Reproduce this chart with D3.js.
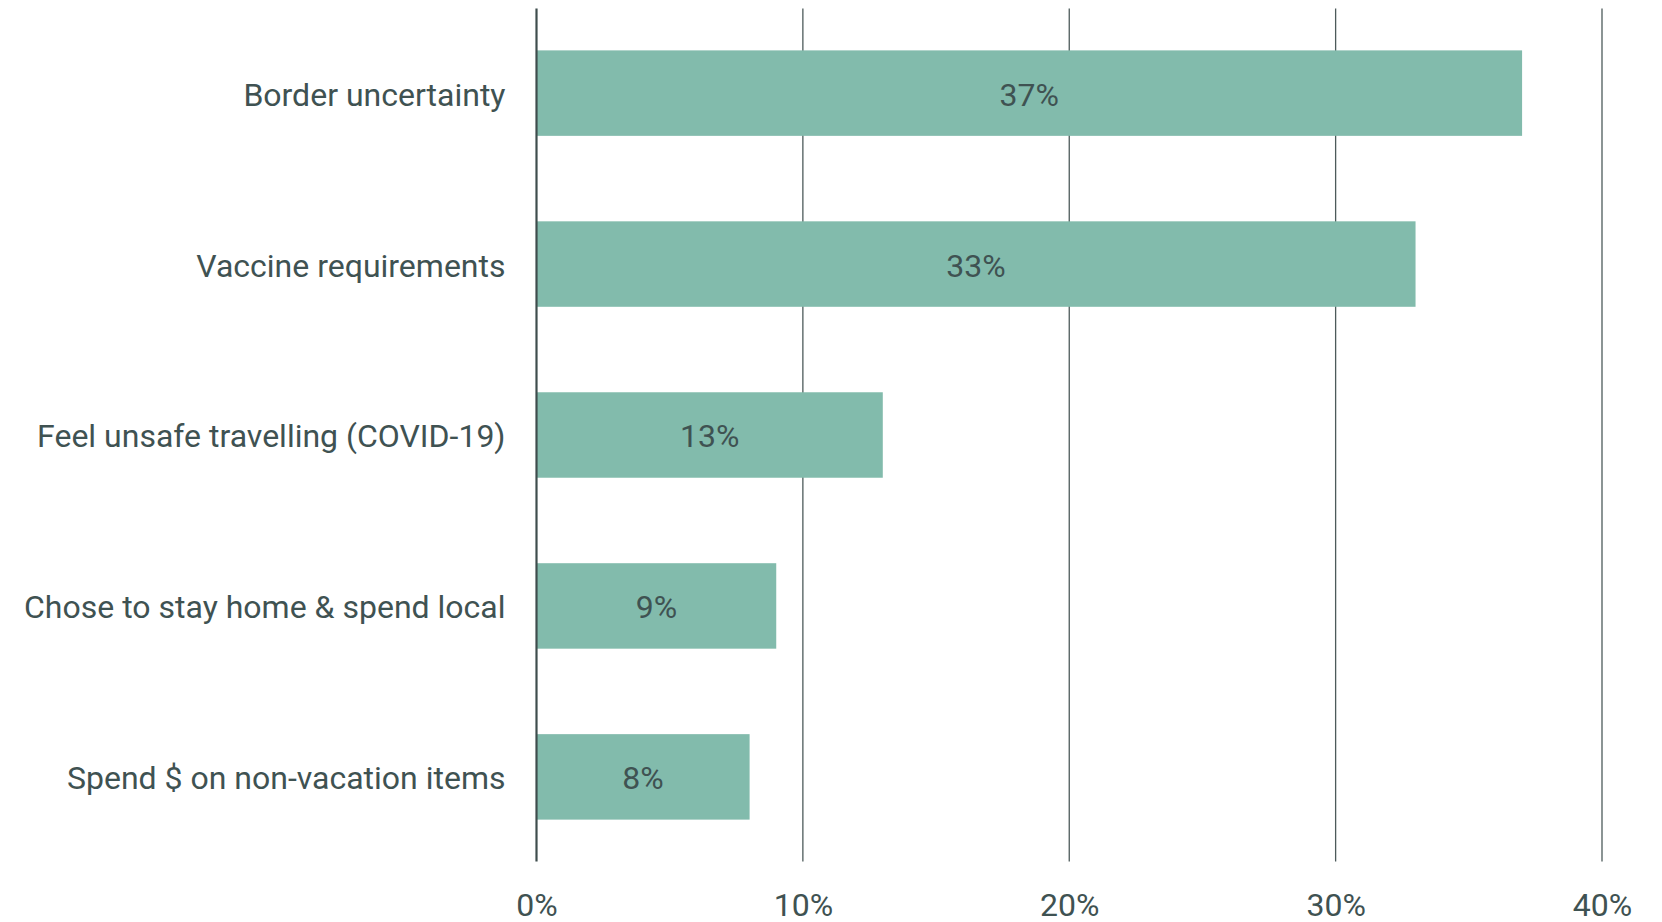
<!DOCTYPE html>
<html>
<head>
<meta charset="utf-8">
<script src="https://cdn.jsdelivr.net/npm/d3@7"></script>
<style>
  html, body { margin: 0; padding: 0; background: #ffffff; }
  svg { display: block; }
  text { font-family: Roboto, "Noto Sans", sans-serif; fill: #3f5252; }
</style>
</head>
<body>
<svg id="chart" width="1662" height="922"></svg>
<script>
// Reasons for not travelling — share of respondents
const categories = [
  "Border uncertainty",
  "Vaccine requirements",
  "Feel unsafe travelling (COVID-19)",
  "Chose to stay home & spend local",
  "Spend $ on non-vacation items"
];
const values = [37, 33, 13, 9, 8];
const tickValues = [0, 10, 20, 30, 40];

const svg = d3.select("#chart");
const plotLeft = 536.5, plotRight = 1602, plotTop = 8.5, plotBottom = 861.5;
const fontSize = 32;

const x = d3.scaleLinear().domain([0, 40]).range([plotLeft, plotRight]);
const y = d3.scaleBand().domain(categories).range([plotTop, plotBottom])
  .paddingInner(0.5).paddingOuter(0.245);

// Vertical gridlines
svg.append("g")
  .selectAll("line")
  .data(tickValues.filter(d => d > 0))
  .join("line")
  .attr("x1", d => x(d)).attr("x2", d => x(d))
  .attr("y1", plotTop).attr("y2", plotBottom)
  .attr("stroke", "#4d5b5b").attr("stroke-width", 1.3);

// Bars
svg.append("g")
  .selectAll("rect")
  .data(categories)
  .join("rect")
  .attr("x", x(0))
  .attr("y", d => y(d))
  .attr("width", (d, i) => x(values[i]) - x(0))
  .attr("height", y.bandwidth())
  .attr("fill", "#82bbac");

// Baseline
svg.append("line")
  .attr("x1", x(0)).attr("x2", x(0))
  .attr("y1", plotTop).attr("y2", plotBottom)
  .attr("stroke", "#3f4d4d").attr("stroke-width", 2.2);

// Value labels centered in bars
svg.append("g")
  .selectAll("text")
  .data(categories)
  .join("text")
  .attr("x", (d, i) => x(values[i] / 2))
  .attr("y", d => y(d) + y.bandwidth() / 2)
  .attr("dy", "0.39em")
  .attr("text-anchor", "middle")
  .attr("font-size", fontSize)
  .text((d, i) => values[i] + "%");

// Category labels
const yAxis = d3.axisLeft(y).tickSize(0).tickPadding(31);
const gy = svg.append("g").attr("transform", `translate(${x(0)},0)`).call(yAxis);
gy.select(".domain").remove();
gy.selectAll("text").attr("font-size", fontSize).attr("font-family", null).attr("fill", null).attr("dy", "0.39em");

// X axis tick labels
const xAxis = d3.axisBottom(x).tickValues(tickValues).tickFormat(d => d + "%").tickSize(0).tickPadding(0);
const gx = svg.append("g").attr("transform", `translate(0,${plotBottom + 54})`).call(xAxis);
gx.select(".domain").remove();
gx.selectAll("text").attr("font-size", fontSize).attr("font-family", null).attr("fill", null).attr("dy", "0");
</script>
</body>
</html>
